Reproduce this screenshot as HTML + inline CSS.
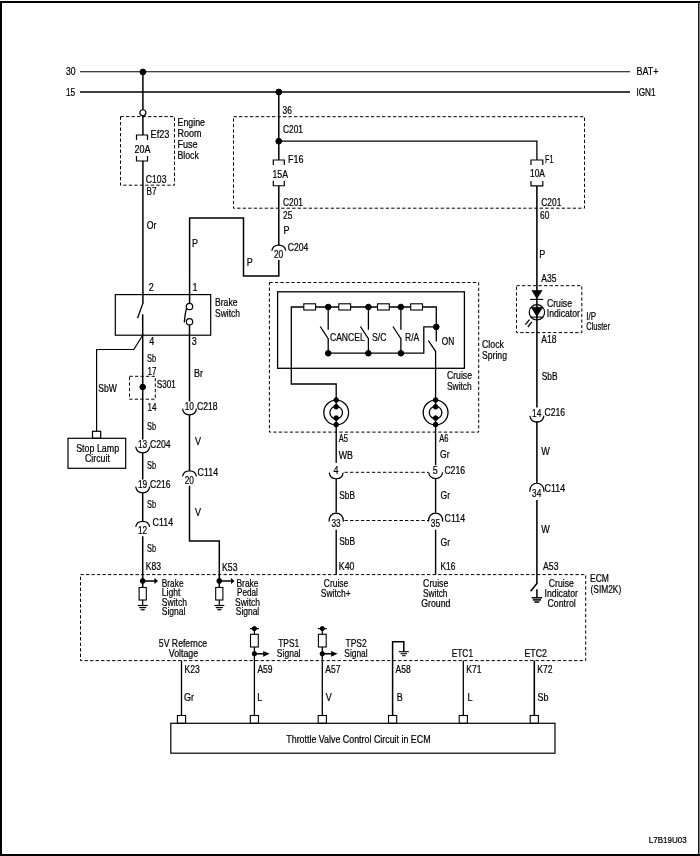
<!DOCTYPE html>
<html><head><meta charset="utf-8"><style>
html,body{margin:0;padding:0;background:#fff;}
svg{display:block;will-change:transform;font-family:"Liberation Sans",sans-serif;}
svg path, svg rect, svg circle{stroke:#000;}
svg path{fill:none;}
svg text{fill:#000;stroke:#000;stroke-width:0.22px;}
</style></head><body>
<svg width="700" height="856" viewBox="0 0 700 856">
<rect x="0" y="0" width="700" height="856" style="fill:#fff;stroke:none"/>
<rect x="0" y="1" width="2" height="855" style="fill:#000;stroke:none"/>
<rect x="0" y="1" width="700" height="2" style="fill:#000;stroke:none"/>
<rect x="698.1" y="1" width="1.4" height="855" style="fill:#000;stroke:none"/>
<rect x="0" y="854" width="700" height="2" style="fill:#000;stroke:none"/>
<path d="M80.00 71.75 L630.00 71.75" stroke-width="1.0" />
<path d="M80.00 92.00 L630.00 92.00" stroke-width="1.5" />
<text transform="translate(66.00,75.30) scale(0.824,1)" font-size="10.5">30</text>
<text transform="translate(66.00,96.00) scale(0.789,1)" font-size="10.5">15</text>
<text transform="translate(636.50,75.40) scale(0.855,1)" font-size="10.5">BAT+</text>
<text transform="translate(636.50,95.80) scale(0.777,1)" font-size="10.5">IGN1</text>
<circle cx="142.90" cy="72.00" r="2.9" fill="#000" stroke="none"/>
<path d="M142.90 72.00 L142.90 110.00" stroke-width="1.5" />
<circle cx="142.90" cy="112.75" r="3.0" fill="#fff" stroke-width="1.2"/>
<path d="M120.50 116.60 L174.50 116.60 L174.50 185.20 L120.50 185.20 Z" stroke-width="1" stroke-dasharray="3.3 2.2"/>
<path d="M142.90 115.40 L142.90 135.00" stroke-width="1.5" />
<path d="M136.50 140.00 L136.50 135.00 L147.50 135.00 L147.50 140.00" stroke-width="1.2" />
<path d="M136.50 156.00 L136.50 161.00 L147.50 161.00 L147.50 156.00" stroke-width="1.2" />
<text transform="translate(150.50,138.40) scale(0.878,1)" font-size="10.5">Ef23</text>
<text transform="translate(134.50,153.00) scale(0.856,1)" font-size="10.5">20A</text>
<text transform="translate(177.50,126.20) scale(0.842,1)" font-size="10.5">Engine</text>
<text transform="translate(177.50,137.00) scale(0.856,1)" font-size="10.5">Room</text>
<text transform="translate(177.50,148.00) scale(0.858,1)" font-size="10.5">Fuse</text>
<text transform="translate(177.50,159.00) scale(0.832,1)" font-size="10.5">Block</text>
<path d="M142.90 160.75 L142.90 303.90" stroke-width="1.5" />
<text transform="translate(145.80,183.00) scale(0.825,1)" font-size="10.5">C103</text>
<text transform="translate(146.50,194.70) scale(0.781,1)" font-size="10.5">B7</text>
<text transform="translate(146.80,229.20) scale(0.832,1)" font-size="10.5">Or</text>
<circle cx="278.80" cy="92.00" r="2.9" fill="#000" stroke="none"/>
<circle cx="278.80" cy="141.20" r="2.9" fill="#000" stroke="none"/>
<path d="M278.80 92.00 L278.80 160.00" stroke-width="1.5" />
<text transform="translate(282.50,113.70) scale(0.798,1)" font-size="10.5">36</text>
<path d="M233.50 116.70 L584.50 116.70 L584.50 208.20 L233.50 208.20 Z" stroke-width="1" stroke-dasharray="3.3 2.2"/>
<text transform="translate(283.00,133.00) scale(0.797,1)" font-size="10.5">C201</text>
<path d="M278.80 141.20 L536.90 141.20 L536.90 160.00" stroke-width="1.3" />
<path d="M273.30 165.00 L273.30 160.00 L284.30 160.00 L284.30 165.00" stroke-width="1.2" />
<path d="M273.30 180.75 L273.30 185.75 L284.30 185.75 L284.30 180.75" stroke-width="1.2" />
<text transform="translate(288.00,162.70) scale(0.858,1)" font-size="10.5">F16</text>
<text transform="translate(272.50,177.50) scale(0.829,1)" font-size="10.5">15A</text>
<path d="M278.80 185.75 L278.80 245.00" stroke-width="1.5" />
<text transform="translate(283.00,206.20) scale(0.797,1)" font-size="10.5">C201</text>
<text transform="translate(283.00,219.20) scale(0.798,1)" font-size="10.5">25</text>
<text transform="translate(283.50,234.20) scale(0.860,1)" font-size="10.5">P</text>
<path d="M271.80 250.70 C273.00 243.20 284.60 243.20 285.80 250.70" stroke-width="1.2"/>
<text transform="translate(274.00,257.90) scale(0.789,1)" font-size="10.5">20</text>
<text transform="translate(287.80,251.10) scale(0.821,1)" font-size="10.5">C204</text>
<path d="M278.80 260.00 L278.80 275.90 L243.50 275.90 L243.50 217.90 L189.60 217.90 L189.60 303.50" stroke-width="1.5" />
<text transform="translate(192.00,246.70) scale(0.860,1)" font-size="10.5">P</text>
<text transform="translate(246.80,265.90) scale(0.860,1)" font-size="10.5">P</text>
<path d="M531.00 165.00 L531.00 160.00 L542.80 160.00 L542.80 165.00" stroke-width="1.2" />
<path d="M531.00 180.90 L531.00 185.90 L542.80 185.90 L542.80 180.90" stroke-width="1.2" />
<text transform="translate(545.00,162.70) scale(0.692,1)" font-size="10.5">F1</text>
<text transform="translate(530.00,177.20) scale(0.803,1)" font-size="10.5">10A</text>
<path d="M536.90 185.90 L536.90 291.00" stroke-width="1.55" />
<text transform="translate(541.30,205.90) scale(0.797,1)" font-size="10.5">C201</text>
<text transform="translate(540.00,218.90) scale(0.798,1)" font-size="10.5">60</text>
<text transform="translate(539.30,257.90) scale(0.860,1)" font-size="10.5">P</text>
<text transform="translate(541.30,281.70) scale(0.813,1)" font-size="10.5">A35</text>
<path d="M516.50 285.70 L581.80 285.70 L581.80 332.60 L516.50 332.60 Z" stroke-width="1" stroke-dasharray="3.3 2.2"/>
<path d="M531.9 290.4 L542.1 290.4 L536.9 298.6 Z" style="fill:#000" stroke-width="0.6"/>
<path d="M530.20 299.40 L543.20 299.40" stroke-width="1.1" />
<path d="M536.90 290.00 L536.90 407.50" stroke-width="1.55" />
<circle cx="536.90" cy="312.30" r="7.7" fill="none" stroke-width="1.2"/>
<path d="M531.2 307.2 L542.8 307.2 L536.9 316.4 Z" style="fill:#000" stroke-width="0.6"/>
<path d="M530.60 317.10 L543.30 317.10" stroke-width="1.1" />
<path d="M529.50 319.60 L525.40 324.60" stroke-width="1.3" />
<path d="M531.80 321.80 L527.90 327.00" stroke-width="1.3" />
<text transform="translate(547.00,306.70) scale(0.824,1)" font-size="10.5">Cruise</text>
<text transform="translate(546.80,316.70) scale(0.823,1)" font-size="10.5">Indicator</text>
<text transform="translate(586.30,319.70) scale(0.757,1)" font-size="10.5">I/P</text>
<text transform="translate(586.30,330.40) scale(0.712,1)" font-size="10.5">Cluster</text>
<text transform="translate(541.30,342.90) scale(0.813,1)" font-size="10.5">A18</text>
<text transform="translate(541.80,379.70) scale(0.791,1)" font-size="10.5">SbB</text>
<path d="M529.90 415.90 C531.10 424.10 542.70 424.10 543.90 415.90" stroke-width="1.2"/>
<text transform="translate(532.10,417.10) scale(0.789,1)" font-size="10.5">14</text>
<text transform="translate(544.50,416.20) scale(0.821,1)" font-size="10.5">C216</text>
<path d="M536.90 421.20 L536.90 483.00" stroke-width="1.55" />
<text transform="translate(541.30,454.70) scale(0.860,1)" font-size="10.5">W</text>
<path d="M529.80 491.70 C529.00 480.40 544.80 480.40 544.00 491.70" stroke-width="1.2"/>
<text transform="translate(532.10,496.60) scale(0.789,1)" font-size="10.5">34</text>
<text transform="translate(544.50,492.20) scale(0.846,1)" font-size="10.5">C114</text>
<path d="M536.90 499.90 L536.90 583.50 L530.60 591.30" stroke-width="1.55" />
<text transform="translate(541.30,533.00) scale(0.860,1)" font-size="10.5">W</text>
<text transform="translate(543.10,570.40) scale(0.824,1)" font-size="10.5">A53</text>
<text transform="translate(148.80,290.90) scale(0.860,1)" font-size="10.5">2</text>
<text transform="translate(192.60,290.90) scale(0.860,1)" font-size="10.5">1</text>
<rect x="115.30" y="294.60" width="95.40" height="40.60" stroke-width="1.2" fill="none"/>
<path d="M142.70 303.90 L137.50 318.30" stroke-width="1.3" />
<text transform="translate(215.00,305.90) scale(0.821,1)" font-size="10.5">Brake</text>
<text transform="translate(215.00,317.20) scale(0.807,1)" font-size="10.5">Switch</text>
<circle cx="189.50" cy="306.50" r="3.2" fill="#fff" stroke-width="1.2"/>
<circle cx="189.50" cy="321.80" r="3.2" fill="#fff" stroke-width="1.2"/>
<path d="M186.9 307.9 Q185.4 310.5 184.3 322.4" stroke-width="1.3"/>
<text transform="translate(149.30,344.70) scale(0.860,1)" font-size="10.5">4</text>
<text transform="translate(191.80,344.70) scale(0.860,1)" font-size="10.5">3</text>
<path d="M142.70 335.20 L133.80 349.50 L96.60 349.50 L96.60 431.30" stroke-width="1.2" />
<text transform="translate(147.00,361.70) scale(0.703,1)" font-size="10.5">Sb</text>
<text transform="translate(147.50,375.40) scale(0.772,1)" font-size="10.5">17</text>
<path d="M129.50 376.30 L155.30 376.30 L155.30 399.20 L129.50 399.20 Z" stroke-width="1" stroke-dasharray="3.3 2.2"/>
<circle cx="142.70" cy="387.00" r="2.8" fill="#000" stroke="none"/>
<text transform="translate(156.80,388.40) scale(0.781,1)" font-size="10.5">S301</text>
<text transform="translate(147.50,410.90) scale(0.772,1)" font-size="10.5">14</text>
<text transform="translate(98.20,391.70) scale(0.816,1)" font-size="10.5">SbW</text>
<text transform="translate(194.00,376.70) scale(0.857,1)" font-size="10.5">Br</text>
<rect x="68.00" y="438.30" width="57.70" height="30.00" stroke-width="1.2" fill="none"/>
<rect x="92.50" y="431.30" width="8.20" height="7.00" stroke-width="1.2" fill="none"/>
<text transform="translate(76.20,452.20) scale(0.846,1)" font-size="10.5">Stop Lamp</text>
<text transform="translate(85.00,461.70) scale(0.838,1)" font-size="10.5">Circuit</text>
<text transform="translate(147.00,429.70) scale(0.703,1)" font-size="10.5">Sb</text>
<path d="M135.70 446.70 C136.90 454.90 148.50 454.90 149.70 446.70" stroke-width="1.2"/>
<text transform="translate(137.90,447.90) scale(0.789,1)" font-size="10.5">13</text>
<text transform="translate(150.00,447.90) scale(0.821,1)" font-size="10.5">C204</text>
<path d="M142.70 314.30 L142.70 439.50" stroke-width="1.5" />
<path d="M135.70 486.70 C136.90 494.90 148.50 494.90 149.70 486.70" stroke-width="1.2"/>
<text transform="translate(137.90,487.90) scale(0.789,1)" font-size="10.5">19</text>
<text transform="translate(150.00,487.90) scale(0.821,1)" font-size="10.5">C216</text>
<path d="M142.70 453.00 L142.70 479.50" stroke-width="1.5" />
<text transform="translate(147.00,468.60) scale(0.703,1)" font-size="10.5">Sb</text>
<path d="M135.70 526.95 C136.90 519.45 148.50 519.45 149.70 526.95" stroke-width="1.2"/>
<text transform="translate(137.90,534.15) scale(0.789,1)" font-size="10.5">12</text>
<text transform="translate(152.50,526.20) scale(0.846,1)" font-size="10.5">C114</text>
<path d="M142.70 493.00 L142.70 521.05" stroke-width="1.5" />
<text transform="translate(147.00,508.40) scale(0.703,1)" font-size="10.5">Sb</text>
<path d="M142.70 536.25 L142.70 587.50" stroke-width="1.5" />
<text transform="translate(147.00,551.70) scale(0.703,1)" font-size="10.5">Sb</text>
<text transform="translate(145.80,570.00) scale(0.813,1)" font-size="10.5">K83</text>
<path d="M182.50 408.70 C183.70 416.90 195.30 416.90 196.50 408.70" stroke-width="1.2"/>
<text transform="translate(184.70,409.90) scale(0.789,1)" font-size="10.5">10</text>
<text transform="translate(197.00,409.70) scale(0.821,1)" font-size="10.5">C218</text>
<path d="M189.50 324.50 L189.50 401.50" stroke-width="1.5" />
<path d="M182.50 476.45 C183.70 468.95 195.30 468.95 196.50 476.45" stroke-width="1.2"/>
<text transform="translate(184.70,483.65) scale(0.789,1)" font-size="10.5">20</text>
<text transform="translate(197.50,476.20) scale(0.846,1)" font-size="10.5">C114</text>
<path d="M189.50 415.00 L189.50 470.55" stroke-width="1.5" />
<text transform="translate(195.00,444.70) scale(0.860,1)" font-size="10.5">V</text>
<text transform="translate(195.00,516.20) scale(0.860,1)" font-size="10.5">V</text>
<path d="M189.50 485.75 L189.50 541.00 L219.30 541.00 L219.30 587.50" stroke-width="1.5" />
<text transform="translate(222.00,571.20) scale(0.829,1)" font-size="10.5">K53</text>
<path d="M80.50 574.60 L585.70 574.60 L585.70 660.60 L80.50 660.60 Z" stroke-width="1" stroke-dasharray="3.3 2.2"/>
<text transform="translate(590.00,582.40) scale(0.815,1)" font-size="10.5">ECM</text>
<text transform="translate(590.50,593.40) scale(0.799,1)" font-size="10.5">(SIM2K)</text>
<circle cx="142.70" cy="581.00" r="2.4" fill="#000" stroke="none"/>
<path d="M142.70 581.00 L155.40 581.00" stroke-width="1.5" />
<path d="M158.00 581.00 L154.40 578.10 L154.40 583.90 Z" style="fill:#000;stroke:none"/>
<rect x="139.10" y="587.50" width="7.20" height="12.50" stroke-width="1.1" fill="none"/>
<path d="M142.70 600.00 L142.70 605.40" stroke-width="1.2" />
<path d="M137.70 605.50 L147.70 605.50" stroke-width="1.2" />
<path d="M139.20 607.60 L146.20 607.60" stroke-width="1.2" />
<path d="M140.70 609.70 L144.70 609.70" stroke-width="1.2" />
<circle cx="219.30" cy="581.00" r="2.4" fill="#000" stroke="none"/>
<path d="M219.30 581.00 L232.00 581.00" stroke-width="1.5" />
<path d="M234.60 581.00 L231.00 578.10 L231.00 583.90 Z" style="fill:#000;stroke:none"/>
<rect x="215.70" y="587.50" width="7.20" height="12.50" stroke-width="1.1" fill="none"/>
<path d="M219.30 600.00 L219.30 605.40" stroke-width="1.2" />
<path d="M214.30 605.50 L224.30 605.50" stroke-width="1.2" />
<path d="M215.80 607.60 L222.80 607.60" stroke-width="1.2" />
<path d="M217.30 609.70 L221.30 609.70" stroke-width="1.2" />
<text transform="translate(161.80,586.70) scale(0.792,1)" font-size="10.5">Brake</text>
<text transform="translate(161.80,596.20) scale(0.821,1)" font-size="10.5">Light</text>
<text transform="translate(161.80,605.90) scale(0.814,1)" font-size="10.5">Switch</text>
<text transform="translate(161.80,615.40) scale(0.812,1)" font-size="10.5">Signal</text>
<text transform="translate(236.50,586.70) scale(0.803,1)" font-size="10.5">Brake</text>
<text transform="translate(237.00,596.20) scale(0.781,1)" font-size="10.5">Pedal</text>
<text transform="translate(235.00,605.90) scale(0.807,1)" font-size="10.5">Switch</text>
<text transform="translate(235.75,615.40) scale(0.805,1)" font-size="10.5">Signal</text>
<text transform="translate(158.85,647.00) scale(0.827,1)" font-size="10.5">5V Refernce</text>
<text transform="translate(168.75,657.20) scale(0.841,1)" font-size="10.5">Voltage</text>
<circle cx="254.40" cy="628.60" r="2.1" fill="#000" stroke="none"/>
<path d="M249.90 628.60 L258.90 628.60" stroke-width="1.2" />
<path d="M254.40 628.60 L254.40 634.30" stroke-width="1.2" />
<rect x="250.50" y="634.30" width="7.80" height="12.70" stroke-width="1.1" fill="none"/>
<path d="M254.40 647.00 L254.40 715.50" stroke-width="1.3" />
<circle cx="254.40" cy="653.80" r="2.2" fill="#000" stroke="none"/>
<path d="M254.40 653.80 L264.20 653.80" stroke-width="1.5" />
<path d="M269.70 653.80 L263.20 650.90 L263.20 656.70 Z" style="fill:#000;stroke:none"/>
<circle cx="322.30" cy="628.60" r="2.1" fill="#000" stroke="none"/>
<path d="M317.80 628.60 L326.80 628.60" stroke-width="1.2" />
<path d="M322.30 628.60 L322.30 634.30" stroke-width="1.2" />
<rect x="318.40" y="634.30" width="7.80" height="12.70" stroke-width="1.1" fill="none"/>
<path d="M322.30 647.00 L322.30 715.50" stroke-width="1.3" />
<circle cx="322.30" cy="653.80" r="2.2" fill="#000" stroke="none"/>
<path d="M322.30 653.80 L332.10 653.80" stroke-width="1.5" />
<path d="M337.60 653.80 L331.10 650.90 L331.10 656.70 Z" style="fill:#000;stroke:none"/>
<text transform="translate(278.20,646.70) scale(0.800,1)" font-size="10.5">TPS1</text>
<text transform="translate(276.85,657.20) scale(0.812,1)" font-size="10.5">Signal</text>
<text transform="translate(345.45,646.70) scale(0.811,1)" font-size="10.5">TPS2</text>
<text transform="translate(344.35,657.20) scale(0.798,1)" font-size="10.5">Signal</text>
<path d="M392.60 715.50 L392.60 641.80 L403.80 641.80 L403.80 651.50" stroke-width="1.5" />
<path d="M398.80 651.70 L408.80 651.70" stroke-width="1.1" />
<path d="M400.60 653.70 L407.00 653.70" stroke-width="1.1" />
<path d="M402.05 655.70 L405.55 655.70" stroke-width="1.1" />
<text transform="translate(451.75,657.20) scale(0.792,1)" font-size="10.5">ETC1</text>
<text transform="translate(524.45,657.20) scale(0.837,1)" font-size="10.5">ETC2</text>
<path d="M536.90 589.30 L536.90 597.50" stroke-width="1.5" />
<path d="M531.70 597.80 L542.10 597.80" stroke-width="1.5" />
<path d="M532.84 599.90 L540.96 599.90" stroke-width="1.5" />
<path d="M534.40 602.00 L539.40 602.00" stroke-width="1.5" />
<text transform="translate(548.80,586.70) scale(0.824,1)" font-size="10.5">Cruise</text>
<text transform="translate(544.55,597.20) scale(0.831,1)" font-size="10.5">Indicator</text>
<text transform="translate(547.45,606.70) scale(0.837,1)" font-size="10.5">Control</text>
<text transform="translate(323.85,586.90) scale(0.801,1)" font-size="10.5">Cruise</text>
<text transform="translate(320.80,596.70) scale(0.809,1)" font-size="10.5">Switch+</text>
<text transform="translate(423.10,586.90) scale(0.830,1)" font-size="10.5">Cruise</text>
<text transform="translate(423.05,596.70) scale(0.791,1)" font-size="10.5">Switch</text>
<text transform="translate(421.25,606.70) scale(0.835,1)" font-size="10.5">Ground</text>
<path d="M181.50 660.60 L181.50 715.50" stroke-width="1.3" />
<path d="M463.30 660.60 L463.30 715.50" stroke-width="1.3" />
<path d="M534.30 660.60 L534.30 715.50" stroke-width="1.6" />
<rect x="177.40" y="715.50" width="8.20" height="7.80" stroke-width="1.1" fill="none"/>
<text transform="translate(184.50,672.60) scale(0.813,1)" font-size="10.5">K23</text>
<text transform="translate(183.90,700.80) scale(0.860,1)" font-size="10.5">Gr</text>
<rect x="250.30" y="715.50" width="8.20" height="7.80" stroke-width="1.1" fill="none"/>
<text transform="translate(257.40,672.60) scale(0.813,1)" font-size="10.5">A59</text>
<text transform="translate(257.30,700.80) scale(0.860,1)" font-size="10.5">L</text>
<rect x="318.20" y="715.50" width="8.20" height="7.80" stroke-width="1.1" fill="none"/>
<text transform="translate(325.30,672.60) scale(0.813,1)" font-size="10.5">A57</text>
<text transform="translate(325.80,700.80) scale(0.860,1)" font-size="10.5">V</text>
<rect x="388.50" y="715.50" width="8.20" height="7.80" stroke-width="1.1" fill="none"/>
<text transform="translate(395.60,672.60) scale(0.813,1)" font-size="10.5">A58</text>
<text transform="translate(396.70,700.80) scale(0.860,1)" font-size="10.5">B</text>
<rect x="459.20" y="715.50" width="8.20" height="7.80" stroke-width="1.1" fill="none"/>
<text transform="translate(466.30,672.60) scale(0.813,1)" font-size="10.5">K71</text>
<text transform="translate(467.60,700.80) scale(0.860,1)" font-size="10.5">L</text>
<rect x="530.20" y="715.50" width="8.20" height="7.80" stroke-width="1.1" fill="none"/>
<text transform="translate(537.30,672.60) scale(0.813,1)" font-size="10.5">K72</text>
<text transform="translate(537.60,700.80) scale(0.860,1)" font-size="10.5">Sb</text>
<rect x="170.80" y="723.30" width="384.20" height="29.90" stroke-width="1.2" fill="none"/>
<text transform="translate(286.30,743.00) scale(0.845,1)" font-size="10.5">Throttle Valve Control Circuit in ECM</text>
<text transform="translate(648.80,843.30) scale(0.965,1)" font-size="8.3">L7B19U03</text>
<path d="M269.40 282.50 L478.70 282.50 L478.70 432.10 L269.40 432.10 Z" stroke-width="1" stroke-dasharray="3.3 2.2"/>
<rect x="277.60" y="291.80" width="186.80" height="76.50" stroke-width="1.3" fill="none"/>
<text transform="translate(482.00,347.90) scale(0.835,1)" font-size="10.5">Clock</text>
<text transform="translate(482.00,359.20) scale(0.824,1)" font-size="10.5">Spring</text>
<text transform="translate(447.00,378.70) scale(0.824,1)" font-size="10.5">Cruise</text>
<text transform="translate(447.00,389.90) scale(0.801,1)" font-size="10.5">Switch</text>
<path d="M336.20 400.00 L336.20 384.00 L291.30 384.00 L291.30 307.00 L436.30 307.00 L436.30 341.60" stroke-width="1.3" />
<rect x="303.80" y="303.80" width="11.80" height="6.20" stroke-width="1.1" fill="#fff"/>
<rect x="338.80" y="303.80" width="11.80" height="6.20" stroke-width="1.1" fill="#fff"/>
<rect x="377.50" y="303.80" width="11.80" height="6.20" stroke-width="1.1" fill="#fff"/>
<rect x="410.70" y="303.80" width="11.80" height="6.20" stroke-width="1.1" fill="#fff"/>
<circle cx="328.20" cy="307.00" r="2.8" fill="#000" stroke="none"/>
<circle cx="328.20" cy="353.30" r="2.8" fill="#000" stroke="none"/>
<path d="M328.20 307.00 L328.20 329.70" stroke-width="1.3" />
<path d="M320.20 326.50 L328.20 338.60 L328.20 353.30" stroke-width="1.3" />
<circle cx="368.40" cy="307.00" r="2.8" fill="#000" stroke="none"/>
<circle cx="368.40" cy="353.30" r="2.8" fill="#000" stroke="none"/>
<path d="M368.40 307.00 L368.40 329.70" stroke-width="1.3" />
<path d="M360.40 326.50 L368.40 338.60 L368.40 353.30" stroke-width="1.3" />
<circle cx="400.90" cy="307.00" r="2.8" fill="#000" stroke="none"/>
<circle cx="400.90" cy="353.30" r="2.8" fill="#000" stroke="none"/>
<path d="M400.90 307.00 L400.90 329.70" stroke-width="1.3" />
<path d="M392.90 326.50 L400.90 338.60 L400.90 353.30" stroke-width="1.3" />
<path d="M328.30 353.20 L423.80 353.20 L423.80 326.90 L436.30 326.90" stroke-width="1.3" />
<circle cx="436.30" cy="326.90" r="2.8" fill="#000" stroke="none"/>
<path d="M428.30 340.50 L435.60 351.30 L435.60 400.00" stroke-width="1.3" />
<text transform="translate(330.00,340.70) scale(0.763,1)" font-size="11.2">CANCEL</text>
<text transform="translate(372.00,340.70) scale(0.775,1)" font-size="11.2">S/C</text>
<text transform="translate(405.00,340.70) scale(0.765,1)" font-size="11.2">R/A</text>
<text transform="translate(441.80,344.90) scale(0.794,1)" font-size="10.5">ON</text>
<circle cx="336.20" cy="412.60" r="12.4" fill="none" stroke-width="1.3"/>
<circle cx="336.20" cy="412.60" r="6.3" fill="none" stroke-width="1.3"/>
<circle cx="336.20" cy="400.00" r="2.3" fill="#000" stroke="none"/>
<circle cx="336.20" cy="406.80" r="2.3" fill="#000" stroke="none"/>
<circle cx="336.20" cy="418.10" r="2.3" fill="#000" stroke="none"/>
<circle cx="336.20" cy="424.60" r="2.3" fill="#000" stroke="none"/>
<path d="M336.20 400.00 L336.20 406.80" stroke-width="1.3" />
<path d="M336.20 418.10 L336.20 424.60" stroke-width="1.3" />
<circle cx="435.60" cy="412.60" r="12.4" fill="none" stroke-width="1.3"/>
<circle cx="435.60" cy="412.60" r="6.3" fill="none" stroke-width="1.3"/>
<circle cx="435.60" cy="400.00" r="2.3" fill="#000" stroke="none"/>
<circle cx="435.60" cy="406.80" r="2.3" fill="#000" stroke="none"/>
<circle cx="435.60" cy="418.10" r="2.3" fill="#000" stroke="none"/>
<circle cx="435.60" cy="424.60" r="2.3" fill="#000" stroke="none"/>
<path d="M435.60 400.00 L435.60 406.80" stroke-width="1.3" />
<path d="M435.60 418.10 L435.60 424.60" stroke-width="1.3" />
<text transform="translate(338.80,442.40) scale(0.718,1)" font-size="10.5">A5</text>
<text transform="translate(338.80,458.70) scale(0.840,1)" font-size="10.5">WB</text>
<text transform="translate(439.30,442.40) scale(0.718,1)" font-size="10.5">A6</text>
<text transform="translate(440.00,458.40) scale(0.815,1)" font-size="10.5">Gr</text>
<path d="M329.20 472.60 C330.40 480.80 342.00 480.80 343.20 472.60" stroke-width="1.2"/>
<text transform="translate(333.47,473.80) scale(0.860,1)" font-size="10.5">4</text>
<path d="M428.60 472.40 C429.80 480.60 441.40 480.60 442.60 472.40" stroke-width="1.2"/>
<text transform="translate(432.87,473.60) scale(0.860,1)" font-size="10.5">5</text>
<text transform="translate(444.40,473.60) scale(0.821,1)" font-size="10.5">C216</text>
<path d="M336.20 424.60 L336.20 462.80" stroke-width="1.4" />
<path d="M435.60 424.60 L435.60 465.20" stroke-width="1.4" />
<path d="M344.50 472.30 L428.50 472.30" stroke-width="1" stroke-dasharray="3.3 2.2"/>
<path d="M329.10 521.60 C328.30 510.30 344.10 510.30 343.30 521.60" stroke-width="1.2"/>
<text transform="translate(331.40,526.50) scale(0.789,1)" font-size="10.5">33</text>
<path d="M428.50 521.60 C427.70 510.30 443.50 510.30 442.70 521.60" stroke-width="1.2"/>
<text transform="translate(430.80,526.50) scale(0.789,1)" font-size="10.5">35</text>
<text transform="translate(444.50,522.20) scale(0.846,1)" font-size="10.5">C114</text>
<path d="M336.20 478.90 L336.20 512.60" stroke-width="1.4" />
<path d="M435.60 478.70 L435.60 512.60" stroke-width="1.4" />
<path d="M344.50 520.50 L428.50 520.50" stroke-width="1" stroke-dasharray="3.3 2.2"/>
<path d="M336.20 529.70 L336.20 574.60" stroke-width="1.4" />
<path d="M435.60 529.70 L435.60 574.60" stroke-width="1.4" />
<text transform="translate(339.30,498.70) scale(0.791,1)" font-size="10.5">SbB</text>
<text transform="translate(339.30,545.40) scale(0.791,1)" font-size="10.5">SbB</text>
<text transform="translate(338.80,570.40) scale(0.840,1)" font-size="10.5">K40</text>
<text transform="translate(440.50,499.20) scale(0.815,1)" font-size="10.5">Gr</text>
<text transform="translate(440.50,545.90) scale(0.815,1)" font-size="10.5">Gr</text>
<text transform="translate(440.50,570.40) scale(0.803,1)" font-size="10.5">K16</text>
</svg></body></html>
